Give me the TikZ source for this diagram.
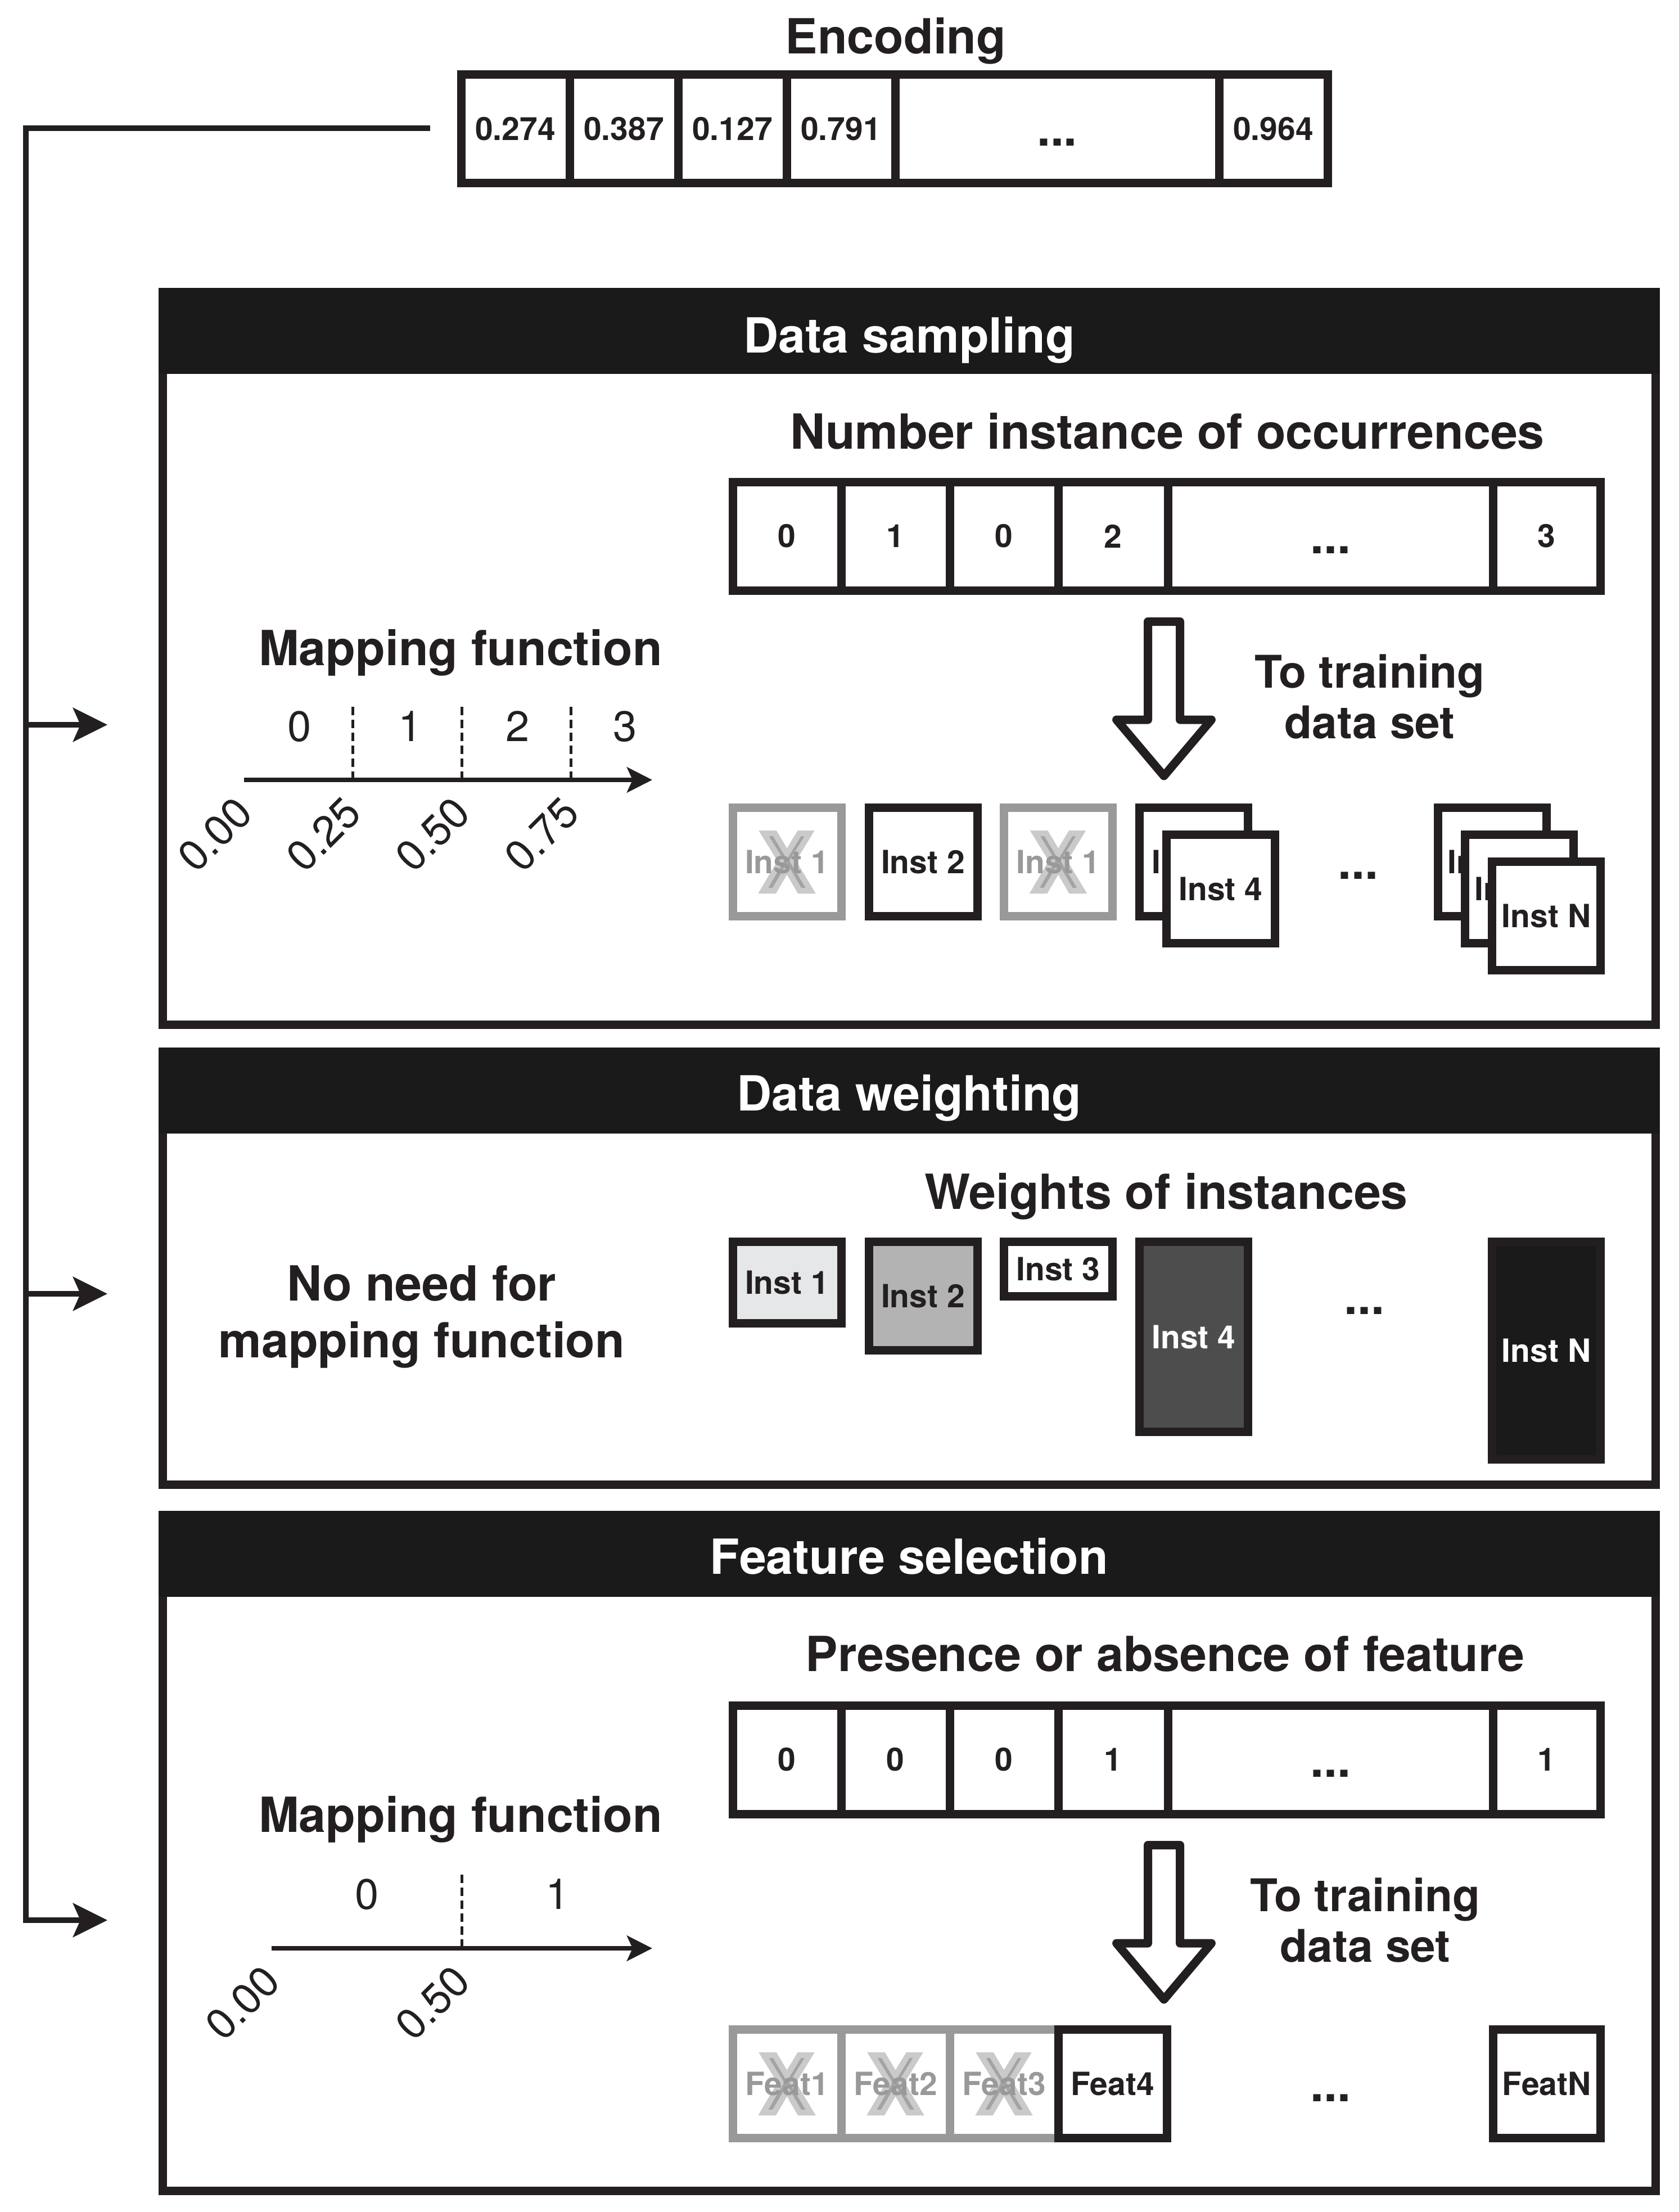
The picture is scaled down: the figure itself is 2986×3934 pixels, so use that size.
\documentclass[tikz,border=0pt]{standalone}
\usepackage{fontspec}
\setmainfont{TeX Gyre Heros}
\usetikzlibrary{arrows.meta}

\definecolor{ink}{HTML}{231F20}
\definecolor{barfill}{HTML}{1A1A1A}
\definecolor{dropgray}{HTML}{999999}
\definecolor{xlight}{HTML}{CACACA}
\definecolor{xdark}{HTML}{A3A3A3}
\definecolor{wone}{HTML}{E6E7E8}
\definecolor{wtwo}{HTML}{B3B3B3}
\definecolor{wfour}{HTML}{4D4D4D}
\definecolor{wlast}{HTML}{1A1A1A}

\newcommand{\titlefont}{\fontsize{24.5}{28.7}\selectfont\bfseries}
\newcommand{\cellfont}{\fontsize{16.2}{19}\selectfont\bfseries}
\newcommand{\mapfont}{\fontsize{21.6}{25}\selectfont}
\newcommand{\notefont}{\fontsize{22.8}{25.6}\selectfont\bfseries}
% outline of the big X over dropped items
\newcommand{\xshape}{(-50,-56) -- (-19,-56) -- (0,-24) -- (19.5,-56) -- (49,-56) -- (16,-2) -- (51,56) -- (19.7,56) -- (0,22) -- (-19.8,56) -- (-50.8,56) -- (-16.7,-2) -- cycle}

\begin{document}
\begin{tikzpicture}
  [x=0.1mm,y=-0.1mm,
   every node/.style={text=ink,inner sep=0pt},
   cell/.style={draw=ink,line width=1.5mm,minimum height=19.3mm,font=\cellfont},
   inst/.style={draw=ink,line width=1.5mm,fill=white,minimum width=19.3mm,minimum height=19.3mm,font=\cellfont},
   dropped/.style={inst,fill=none,draw=dropgray,text=dropgray},
   panel/.style={draw=ink,line width=1.5mm},
   headtext/.style={text=white,font=\titlefont,anchor=base},
   title/.style={font=\titlefont,anchor=base},
   note/.style={font=\notefont,align=center,anchor=base},
   dots/.style={font=\titlefont,anchor=base},
   feed/.style={draw=ink,line width=1mm,-{Stealth[length=6.1mm,width=6mm,inset=1.3mm]}},
   axis/.style={draw=ink,line width=0.8mm,-{Stealth[length=4.5mm,width=4.5mm,inset=1mm]}},
   cut/.style={draw=ink,line width=0.5mm,dash pattern=on 1.5mm off 0.8mm},
   bin/.style={font=\mapfont,anchor=base},
   tick/.style={font=\mapfont,rotate=45},
   hollow/.style={draw=ink,fill=white,line width=1.5mm,line join=round},
   crossmark/.pic={
     \begin{scope}
       \clip \xshape;
       \fill[xdark] \xshape;
       \draw[xlight,line width=2mm] \xshape;
     \end{scope}}]
\path[use as bounding box] (0,0) rectangle (2986,3934);

% encoding
\node[title] (enc) at (1593,96) {Encoding};
\foreach \v/\cx [count=\i] in {0.274/916.5,0.387/1109.5,0.127/1302.5,0.791/1495.5}
  \node[cell,minimum width=19.3mm] (e\i) at (\cx,229) {\v};
\node[cell,minimum width=57.6mm] (e5) at (1880,229) {\titlefont\vphantom{0}...};
\node[cell,minimum width=19.3mm] (e6) at (2264.5,229) {0.964};

\coordinate (src) at (765,228);
\coordinate (bend) at (46,228);
\coordinate (tapA) at (46,1289);
\coordinate (tapB) at (46,2301);
\coordinate (tapC) at (46,3415);
\coordinate (inA) at (191,1289);
\coordinate (inB) at (191,2301);
\coordinate (inC) at (191,3415);
\draw[feed] (src) -- (bend) -- (tapC) -- (inC);
\draw[feed] (tapA) -- (inA);
\draw[feed] (tapB) -- (inB);

% data sampling
\draw[panel] (289.5,519.5) rectangle (2944.5,1822.5);
\fill[barfill] (282,512) rectangle (2952,665);
\node[headtext] (hd1) at (1617,627) {Data sampling};

\node[title] (mf1) at (819,1183) {Mapping function};
\coordinate (ax1s) at (434,1387);
\coordinate (ax1e) at (1160,1387);
\draw[axis] (ax1s) -- (ax1e);
\foreach \x in {627,821,1015}
  \draw[cut] (\x,1257) -- (\x,1387);
\foreach \b/\x in {0/533,1/730,2/921,3/1112}
  \node[bin] at (\x,1318) {\b};
\foreach \t/\x in {0.00/434,0.25/627,0.50/821,0.75/1015}
  \node[tick] at (\x-52,1484) {\t};

\node[title] (occ) at (2076,798) {Number instance of occurrences};
\foreach \v/\cx/\w [count=\i] in {0/1399.5/19.3,1/1592.5/19.3,0/1785.5/19.3,2/1979.5/19.5}
  \node[cell,minimum width=\w mm] (o\i) at (\cx,953.5) {\v};
\node[cell,minimum width=57.8mm] (o5) at (2366,953.5) {\titlefont\vphantom{0}...};
\node[cell,minimum width=19.1mm] (o6) at (2750.5,953.5) {3};

\draw[hollow] (2041.5,1105.5) -- (2098.5,1105.5) -- (2098.5,1280) -- (2154.5,1280)
  -- (2070,1380) -- (1985.5,1280) -- (2041.5,1280) -- cycle;
\node[note] (tr1) at (2436,1313) {To training\\data set};

\pic at (1399.5,1533) {crossmark};
\pic at (1882,1533) {crossmark};
\node[dropped] (s1) at (1399.5,1533) {Inst 1};
\node[inst] (s2) at (1641.5,1533) {Inst 2};
\node[dropped] (s3) at (1882,1533) {Inst 1};
\node[inst] (s4b) at (2123,1533) {Inst 4};
\node[inst] (s4) at (2171,1581) {Inst 4};
\node[dots] (sdots) at (2415,1563) {...};
\node[inst] (sNa) at (2654,1533) {Inst N};
\node[inst] (sNb) at (2702,1581) {Inst N};
\node[inst] (sN) at (2750,1629) {Inst N};

% data weighting
\draw[panel] (289.5,1870.5) rectangle (2944.5,2640.5);
\fill[barfill] (282,1863) rectangle (2952,2016);
\node[headtext] (hd2) at (1617,1975) {Data weighting};

\node[title,align=center] (nomap) at (750,2414) {No need for\\mapping function};
\node[title] (wt) at (2074,2150) {Weights of instances};
\node[inst,fill=wone,minimum height=14.5mm] (w1) at (1399.5,2281) {Inst 1};
\node[inst,fill=wtwo,minimum height=19.3mm] (w2) at (1641.5,2305) {Inst 2};
\node[inst,minimum height=9.7mm] (w3) at (1882,2257) {Inst 3};
\node[inst,fill=wfour,text=white,minimum height=33.8mm] (w4) at (2123,2377.5) {Inst 4};
\node[dots] (wdots) at (2426,2337) {...};
\node[inst,fill=wlast,text=white,minimum height=38.7mm] (wN) at (2750,2402) {Inst N};

% feature selection
\draw[panel] (289.5,2694.5) rectangle (2944.5,3896.5);
\fill[barfill] (282,2687) rectangle (2952,2840);
\node[headtext] (hd3) at (1617,2799) {Feature selection};

\node[title] (mf3) at (819,3258) {Mapping function};
\coordinate (ax3s) at (483,3465);
\coordinate (ax3e) at (1160,3465);
\draw[axis] (ax3s) -- (ax3e);
\draw[cut] (821,3334) -- (821,3465);
\foreach \b/\x in {0/653,1/992}
  \node[bin] at (\x,3395) {\b};
\foreach \t/\x in {0.00/483,0.50/821}
  \node[tick] at (\x-52,3562) {\t};

\node[title] (pres) at (2072,2972) {Presence or absence of feature};
\foreach \v/\cx/\w [count=\i] in {0/1399.5/19.3,0/1592.5/19.3,0/1785.5/19.3,1/1979.5/19.5}
  \node[cell,minimum width=\w mm] (p\i) at (\cx,3129.5) {\v};
\node[cell,minimum width=57.8mm] (p5) at (2366,3129.5) {\titlefont\vphantom{0}...};
\node[cell,minimum width=19.1mm] (p6) at (2750.5,3129.5) {1};

\draw[hollow] (2041.5,3281.5) -- (2098.5,3281.5) -- (2098.5,3456) -- (2154.5,3456)
  -- (2070,3556) -- (1985.5,3456) -- (2041.5,3456) -- cycle;
\node[note] (tr3) at (2428,3489) {To training\\data set};

\foreach \cx in {1399.5,1592.5,1785.5}
  \pic at (\cx,3706) {crossmark};
\node[dropped,minimum width=19.3mm] (f1) at (1399.5,3706) {Feat1};
\node[dropped,minimum width=19.3mm] (f2) at (1592.5,3706) {Feat2};
\node[dropped,minimum width=19.3mm] (f3) at (1785.5,3706) {Feat3};
\node[inst] (f4) at (1978.5,3706) {Feat4};
\node[dots] (fdots) at (2366,3737) {...};
\node[inst,minimum width=19.1mm] (fN) at (2750.5,3706) {FeatN};
\end{tikzpicture}
\end{document}
